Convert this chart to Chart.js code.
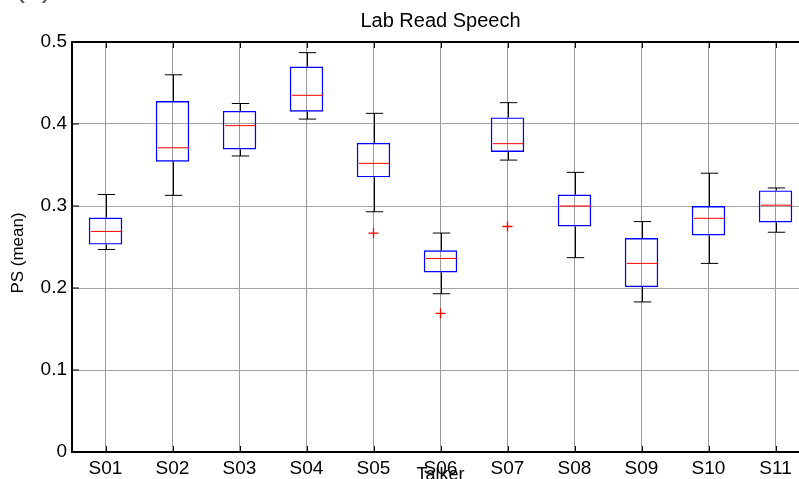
<!DOCTYPE html>
<html>
<head>
<meta charset="utf-8">
<script src="https://cdn.jsdelivr.net/npm/chart.js@4.4.0/dist/chart.umd.min.js"></script>
<style>
  html, body { margin: 0; padding: 0; overflow: hidden; background: #fff; width: 799px; height: 479px; }
  #wrap { position: absolute; left: 0; top: 0; width: 830px; height: 490px; }
</style>
</head>
<body>
<div id="wrap"><canvas id="chart" width="830" height="490"></canvas></div>
<script>
// Per-talker box statistics of PS (mean)
const talkers     = ['S01', 'S02', 'S03', 'S04', 'S05', 'S06', 'S07', 'S08', 'S09', 'S10', 'S11'];
const whiskerLow  = [0.247, 0.313, 0.361, 0.406, 0.293, 0.193, 0.356, 0.237, 0.183, 0.230, 0.268];
const q1          = [0.253, 0.354, 0.369, 0.415, 0.335, 0.219, 0.366, 0.275, 0.201, 0.264, 0.280];
const medians     = [0.269, 0.371, 0.398, 0.435, 0.352, 0.236, 0.376, 0.300, 0.230, 0.285, 0.301];
const q3          = [0.286, 0.428, 0.416, 0.470, 0.377, 0.246, 0.408, 0.314, 0.261, 0.300, 0.319];
const whiskerHigh = [0.314, 0.460, 0.425, 0.487, 0.413, 0.267, 0.426, 0.341, 0.281, 0.340, 0.322];

// Points beyond the whiskers
const outlierTalkers = ['S05', 'S06', 'S07'];
const outlierValues  = [0.267, 0.169, 0.275];

const yTickLabels = ['0', '0.1', '0.2', '0.3', '0.4', '0.5'];

const FONT = '"Liberation Sans", Arial, Helvetica, sans-serif';

function strokeLine(ctx, x1, y1, x2, y2) {
  ctx.beginPath();
  ctx.moveTo(x1, y1);
  ctx.lineTo(x2, y2);
  ctx.stroke();
}

// Whiskers, caps and medians, placed through the chart's scales
const boxDetails = {
  id: 'boxDetails',
  afterDatasetsDraw(chart) {
    const { ctx, scales: { x, y } } = chart;
    const step = x.getPixelForValue(1) - x.getPixelForValue(0);
    const capHalf = step * 0.13;
    const boxHalf = step * 0.25;
    ctx.save();
    ctx.lineWidth = 1;
    talkers.forEach((t, i) => {
      const cx = Math.round(x.getPixelForValue(i)) + 0.5;
      const yLo = y.getPixelForValue(whiskerLow[i]);
      const yQ1 = y.getPixelForValue(q1[i]);
      const yQ3 = y.getPixelForValue(q3[i]);
      const yHi = y.getPixelForValue(whiskerHigh[i]);
      const yMed = y.getPixelForValue(medians[i]);
      ctx.strokeStyle = '#000';
      strokeLine(ctx, cx, yQ3, cx, yHi);
      strokeLine(ctx, cx, yQ1, cx, yLo);
      strokeLine(ctx, cx - capHalf, yHi, cx + capHalf, yHi);
      strokeLine(ctx, cx - capHalf, yLo, cx + capHalf, yLo);
      ctx.strokeStyle = '#ff0000';
      strokeLine(ctx, cx - boxHalf + 1, yMed, cx + boxHalf - 1, yMed);
    });
    ctx.restore();
  }
};

// Top frame line, inward tick marks, title, y-axis label and panel tag
const frame = {
  id: 'frame',
  afterDraw(chart) {
    const { ctx, chartArea: a, scales: { x, y } } = chart;
    ctx.save();
    ctx.strokeStyle = '#000';
    ctx.lineWidth = 2;
    strokeLine(ctx, a.left - 1, a.top, a.right, a.top);
    ctx.lineWidth = 1;
    talkers.forEach((t, i) => {
      const cx = Math.round(x.getPixelForValue(i)) + 0.5;
      strokeLine(ctx, cx, a.bottom, cx, a.bottom - 6);
      strokeLine(ctx, cx, a.top, cx, a.top + 6);
    });
    yTickLabels.forEach((lbl, i) => {
      const yy = y.getPixelForValue(i * 0.1);
      strokeLine(ctx, a.left, yy, a.left + 7, yy);
    });
    ctx.fillStyle = '#000';
    ctx.font = '20px ' + FONT;
    ctx.textAlign = 'center';
    ctx.textBaseline = 'alphabetic';
    ctx.fillText('Lab Read Speech', (a.left + a.right) / 2, 27);

    ctx.save();
    ctx.translate(18.5, (a.top + a.bottom) / 2 + 6);
    ctx.rotate(-Math.PI / 2);
    ctx.font = '17px ' + FONT;
    ctx.textBaseline = 'middle';
    ctx.fillText('PS (mean)', 0, 0);
    ctx.restore();

    ctx.font = '30px ' + FONT;
    ctx.textAlign = 'left';
    ctx.fillStyle = '#555';
    ctx.fillText('(a)', 15, -3);
    ctx.restore();
  }
};

new Chart(document.getElementById('chart'), {
  type: 'bar',
  data: {
    labels: talkers,
    datasets: [
      {
        label: 'IQR',
        data: talkers.map((t, i) => [q1[i], q3[i]]),
        backgroundColor: 'rgba(0,0,0,0)',
        borderColor: '#0000ff',
        borderWidth: 1.4,
        borderSkipped: false,
        barPercentage: 0.5,
        categoryPercentage: 1,
        grouped: false
      },
      {
        type: 'line',
        label: 'Outliers',
        data: outlierTalkers.map((t, i) => ({ x: t, y: outlierValues[i] })),
        showLine: false,
        pointStyle: 'cross',
        pointRadius: 5,
        pointBorderWidth: 1.3,
        pointBorderColor: '#ff0000',
        pointBackgroundColor: '#ff0000'
      }
    ]
  },
  options: {
    responsive: false,
    animation: false,
    devicePixelRatio: 1,
    layout: { padding: { top: 42, right: 21, left: 0, bottom: 0 } },
    plugins: {
      legend: { display: false },
      tooltip: { enabled: false },
      title: { display: false }
    },
    scales: {
      x: {
        offset: true,
        grid: { offset: false, color: '#9a9a9a', lineWidth: 1, drawTicks: false },
        border: { display: true, color: '#000', width: 2 },
        ticks: { color: '#000', font: { size: 19, family: FONT }, padding: 5, maxRotation: 0, autoSkip: false },
        title: { display: true, text: 'Talker', color: '#000', font: { size: 18, family: FONT }, padding: { top: 0, bottom: 4 } },
        afterFit(s) { s.height = 38; }
      },
      y: {
        min: 0,
        max: 0.5,
        ticks: {
          stepSize: 0.1,
          padding: 5,
          color: '#000',
          font: { size: 19, family: FONT },
          callback: (v, i) => yTickLabels[i]
        },
        grid: { color: '#a3a3a3', lineWidth: 1, drawTicks: false },
        border: { display: true, color: '#000', width: 2 },
        title: { display: false },
        afterFit(s) { s.width = 72; }
      }
    }
  },
  plugins: [boxDetails, frame]
});
</script>
</body>
</html>
